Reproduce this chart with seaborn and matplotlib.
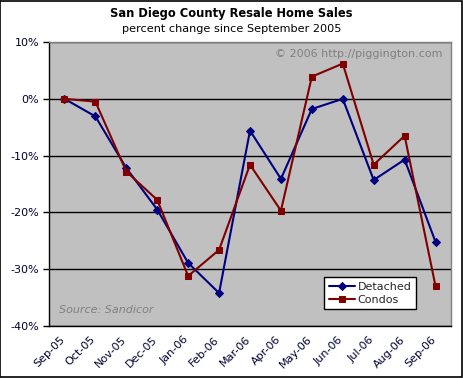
import pandas as pd
import matplotlib
matplotlib.use("Agg")
import matplotlib.pyplot as plt
import matplotlib.transforms as mtransforms
import seaborn as sns
from matplotlib.patches import Rectangle
from matplotlib.ticker import FuncFormatter, MultipleLocator

months = ['Sep-05', 'Oct-05', 'Nov-05', 'Dec-05', 'Jan-06', 'Feb-06', 'Mar-06',
          'Apr-06', 'May-06', 'Jun-06', 'Jul-06', 'Aug-06', 'Sep-06']
detached = [0.0, -3.1, -12.2, -19.5, -28.9, -34.2, -5.6,
            -14.1, -1.8, 0.0, -14.3, -10.7, -25.2]
condos = [0.0, -0.5, -12.8, -17.8, -31.2, -26.6, -11.6,
          -19.7, 3.9, 6.2, -11.6, -6.5, -33.0]

df = pd.DataFrame({'idx': range(len(months)), 'month': months,
                   'Detached': detached, 'Condos': condos})

sns.set_style("white")
plt.rcParams['font.family'] = ['DejaVu Sans']

fig = plt.figure(figsize=(4.63, 3.78), dpi=100)
ax = fig.add_axes([49/463, 1 - 326/378, 402/463, 284/378])
ax.set_facecolor('#C0C0C0')

sns.lineplot(data=df, x='idx', y='Detached', ax=ax, color='#000080', lw=1.5,
             marker='D', markersize=4, markeredgecolor='#000080', label='Detached')
sns.lineplot(data=df, x='idx', y='Condos', ax=ax, color='#800000', lw=1.5,
             marker='s', markersize=5, markeredgecolor='#800000', label='Condos')

ax.set_xlim(-0.5, len(months) - 0.5)
ax.set_ylim(-40, 10)
ax.yaxis.set_major_locator(MultipleLocator(10))
ax.yaxis.set_major_formatter(FuncFormatter(lambda v, p: f'{v:.0f}%'))
ax.grid(axis='y', color='black', lw=1)
ax.set_axisbelow(True)

ax.set_xticks(range(len(months)))
ax.set_xticklabels(months, rotation=45, ha='right', rotation_mode='anchor',
                   fontsize=8, color='#000033')
ax.set_xticks([i - 0.5 for i in range(len(months) + 1)], minor=True)
ax.tick_params(axis='x', which='major', length=0, pad=6)
ax.tick_params(axis='x', which='minor', length=4, width=1, color='black', direction='out')
ax.tick_params(axis='y', length=4, width=1, color='black', direction='out',
               labelsize=8, pad=3, left=True)
for t in ax.get_yticklabels():
    t.set_color('#000033')
ax.set_xlabel('')
ax.set_ylabel('')

# nudge month labels a little left, like the original
shift = mtransforms.ScaledTranslation(-5/100, 0, fig.dpi_scale_trans)
for t in ax.xaxis.get_majorticklabels():
    t.set_transform(t.get_transform() + shift)

ax.spines['left'].set_color('black')
ax.spines['bottom'].set_color('black')
ax.spines['top'].set_color('#808080')
ax.spines['right'].set_color('#808080')
for s in ax.spines.values():
    s.set_linewidth(1)

ax.text(0.98, 0.975, '\u00a9 2006 http://piggington.com', transform=ax.transAxes,
        ha='right', va='top', fontsize=8, color='#808080')
ax.text(0.025, 0.04, 'Source: Sandicor', transform=ax.transAxes,
        ha='left', va='bottom', fontsize=8, color='#808080', style='italic')

leg = ax.legend(loc='lower right', bbox_to_anchor=(0.913, 0.06), borderaxespad=0,
                fontsize=8, frameon=True, fancybox=False, framealpha=1,
                edgecolor='black', handlelength=2.4, borderpad=0.4,
                labelspacing=0.25, handletextpad=0.2)
leg.get_frame().set_linewidth(1)

fig.text(0.5, 1 - 14/378, 'San Diego County Resale Home Sales', ha='center',
         va='center', fontsize=8.3, fontweight='bold', color='black')
fig.text(0.5, 1 - 29/378, 'percent change since September 2005', ha='center',
         va='center', fontsize=8.1, color='black')

fig.patches.append(Rectangle((0.001, 0.002), 0.996, 0.996, transform=fig.transFigure,
                             fill=False, edgecolor='black', lw=1.2))

fig.savefig('out.png', dpi=100)
